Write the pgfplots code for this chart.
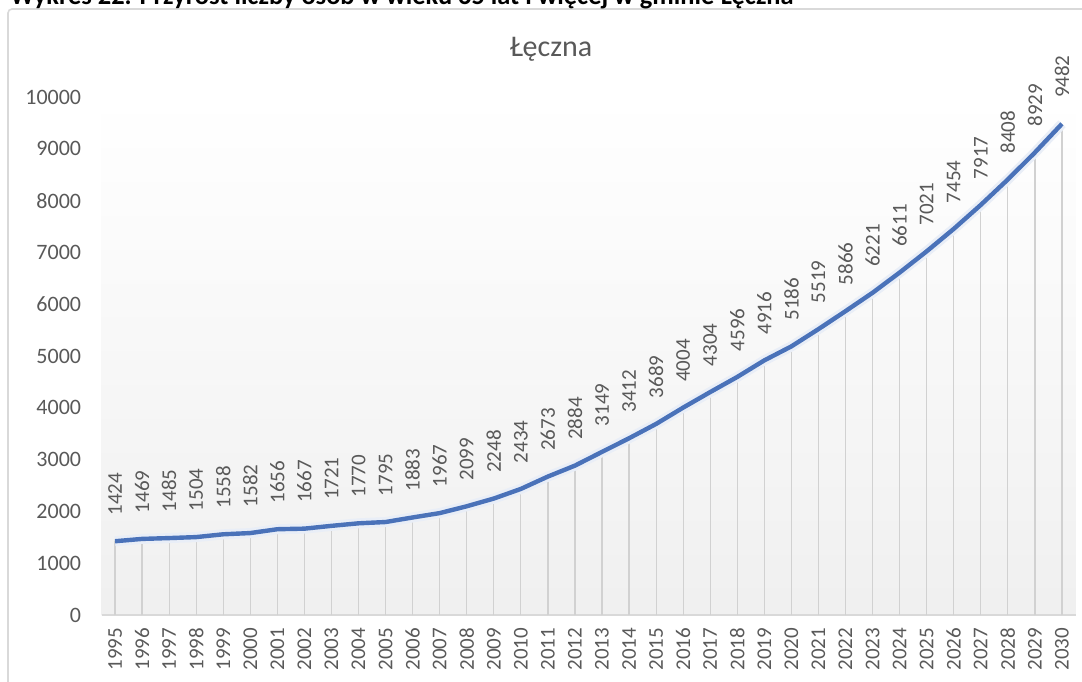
\documentclass[border=0pt]{standalone}
\usepackage{fontspec}
\setmainfont{Carlito}
\usepackage{pgfplots}
\pgfplotsset{compat=1.18}
\definecolor{txt}{RGB}{89,89,89}
\definecolor{linia}{RGB}{74,114,185}
\definecolor{os}{RGB}{217,217,217}
\pgfplotsset{/pgf/number format/.cd, 1000 sep={}, assume math mode=true}

\begin{document}
\begin{tikzpicture}
\useasboundingbox (0,0) rectangle (541pt,340.5pt);
% ramka wykresu
\draw[os, line width=0.8pt, rounded corners=2pt] (4pt,-20pt) rectangle (560pt,336pt);
% naglowek (uciety u gory)
\node[anchor=base west, inner sep=0, font=\fontsize{13.2}{15}\selectfont\bfseries] at (5pt,338.3pt)
  {Wykres 22. Przyrost liczby osób w wieku 65 lat i więcej w gminie Łęczna};
% tytul
\node[anchor=base, inner sep=0, text=txt, font=\fontsize{15}{17}\selectfont] at (275.5pt,312pt) {Łęczna};

\begin{axis}[
    at={(50.75pt,33pt)}, anchor=south west,
    scale only axis, width=487pt, height=259pt,
    xmin=1994.5, xmax=2030.5,
    ymin=0, ymax=10000,
    clip=false,
    scaled y ticks=false,
    axis x line*=bottom, axis y line*=left,
    x axis line style={os, line width=0.9pt},
    y axis line style={draw=none},
    axis background/.style={shade, top color=white, bottom color=black!6},
    xtick={1995,...,2030},
    ytick={0,1000,...,10000},
    major tick length=0pt,
    tick label style={text=txt, font=\fontsize{10.5}{12}\selectfont},
    x tick label style={rotate=90, anchor=east, xshift=-3pt},
    y tick label style={font=\fontsize{11}{12}\selectfont, anchor=east, inner xsep=0pt, xshift=-10pt},
]
% linie spadku
\addplot[ycomb, draw=black!18, line width=0.6pt, mark=none] coordinates {
(1995,1424) (1996,1469) (1997,1485) (1998,1504) (1999,1558) (2000,1582)
(2001,1656) (2002,1667) (2003,1721) (2004,1770) (2005,1795) (2006,1883)
(2007,1967) (2008,2099) (2009,2248) (2010,2434) (2011,2673) (2012,2884)
(2013,3149) (2014,3412) (2015,3689) (2016,4004) (2017,4304) (2018,4596)
(2019,4916) (2020,5186) (2021,5519) (2022,5866) (2023,6221) (2024,6611)
(2025,7021) (2026,7454) (2027,7917) (2028,8408) (2029,8929) (2030,9482)};
% poswiata
\addplot[draw=linia!12, line width=5pt, mark=none, line join=round] coordinates {
(1995,1424) (1996,1469) (1997,1485) (1998,1504) (1999,1558) (2000,1582)
(2001,1656) (2002,1667) (2003,1721) (2004,1770) (2005,1795) (2006,1883)
(2007,1967) (2008,2099) (2009,2248) (2010,2434) (2011,2673) (2012,2884)
(2013,3149) (2014,3412) (2015,3689) (2016,4004) (2017,4304) (2018,4596)
(2019,4916) (2020,5186) (2021,5519) (2022,5866) (2023,6221) (2024,6611)
(2025,7021) (2026,7454) (2027,7917) (2028,8408) (2029,8929) (2030,9482)};
% seria
\addplot[draw=linia, line width=2.2pt, mark=none, line join=round,
    nodes near coords,
    every node near coord/.append style={text=txt, font=\fontsize{10.5}{12}\selectfont,
        anchor=west, rotate=90, xshift=8.5pt}] coordinates {
(1995,1424) (1996,1469) (1997,1485) (1998,1504) (1999,1558) (2000,1582)
(2001,1656) (2002,1667) (2003,1721) (2004,1770) (2005,1795) (2006,1883)
(2007,1967) (2008,2099) (2009,2248) (2010,2434) (2011,2673) (2012,2884)
(2013,3149) (2014,3412) (2015,3689) (2016,4004) (2017,4304) (2018,4596)
(2019,4916) (2020,5186) (2021,5519) (2022,5866) (2023,6221) (2024,6611)
(2025,7021) (2026,7454) (2027,7917) (2028,8408) (2029,8929) (2030,9482)};
\end{axis}
\end{tikzpicture}
\end{document}
